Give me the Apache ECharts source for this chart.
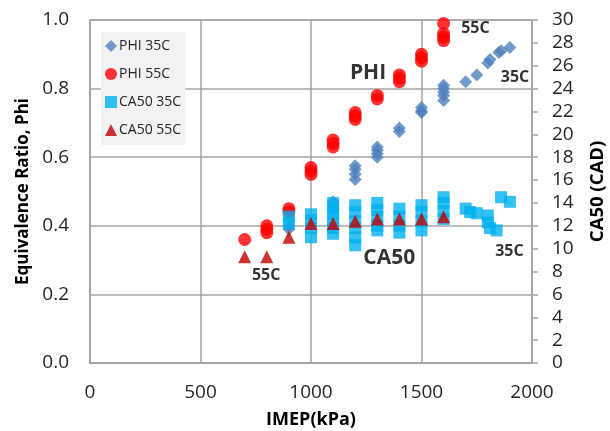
<!DOCTYPE html>
<html>
<head>
<meta charset="utf-8">
<script src="https://cdn.jsdelivr.net/npm/echarts@6/dist/echarts.min.js"></script>
<style>
  html, body { margin: 0; padding: 0; background: #fff; }
  #chart { width: 610px; height: 431px; }
</style>
</head>
<body>
<div id="chart"></div>
<script>
// IMEP (kPa) and equivalence ratio, intake at 35C
const phi35Imep = [900, 900, 1100, 1100, 1200, 1200, 1200, 1200, 1300, 1300, 1300, 1300,
  1400, 1400, 1500, 1500, 1500, 1600, 1600, 1600, 1600, 1600, 1700, 1750, 1800, 1810, 1850, 1860, 1900];
const phi35Val = [0.39, 0.40, 0.47, 0.45, 0.575, 0.565, 0.55, 0.535, 0.63, 0.62, 0.61, 0.60,
  0.685, 0.675, 0.745, 0.735, 0.73, 0.81, 0.80, 0.79, 0.78, 0.765, 0.82, 0.84, 0.875, 0.885, 0.905, 0.91, 0.92];

// IMEP (kPa) and equivalence ratio, intake at 55C
const phi55Imep = [700, 800, 800, 800, 900, 900, 1000, 1000, 1000, 1100, 1100, 1100,
  1200, 1200, 1200, 1300, 1300, 1400, 1400, 1400, 1500, 1500, 1500, 1600, 1600, 1600, 1600];
const phi55Val = [0.36, 0.38, 0.39, 0.40, 0.44, 0.45, 0.55, 0.56, 0.57, 0.63, 0.64, 0.65,
  0.71, 0.72, 0.73, 0.77, 0.78, 0.82, 0.83, 0.84, 0.88, 0.89, 0.90, 0.94, 0.95, 0.96, 0.99];

// IMEP (kPa) and CA50 (CAD), intake at 35C
const ca35Imep = [900, 900, 1000, 1000, 1000, 1000, 1100, 1100, 1100, 1100, 1100, 1100,
  1200, 1200, 1200, 1200, 1200, 1200, 1300, 1300, 1300, 1300, 1300, 1400, 1400, 1400, 1400,
  1500, 1500, 1500, 1500, 1600, 1600, 1600, 1600, 1700, 1720, 1750, 1800, 1800, 1810, 1840, 1860, 1900];
const ca35Val = [12.8, 12.2, 13.0, 12.5, 11.8, 11.0, 14.0, 13.5, 13.0, 12.4, 11.8, 11.3,
  13.8, 13.2, 12.4, 11.8, 11.0, 10.3, 14.0, 13.4, 12.8, 12.0, 11.6, 13.5, 12.8, 12.0, 11.4,
  13.8, 13.2, 12.4, 11.6, 14.5, 14.0, 13.3, 12.6, 13.5, 13.2, 13.1, 12.9, 12.3, 11.8, 11.6, 14.5, 14.1];

// IMEP (kPa) and CA50 (CAD), intake at 55C
const ca55Imep = [700, 800, 900, 1000, 1100, 1200, 1300, 1400, 1500, 1600];
const ca55Val = [9.3, 9.3, 11.0, 12.2, 12.2, 12.4, 12.6, 12.6, 12.6, 12.8];

// In-plot annotations: text, IMEP, Phi, font size
const noteText = ['PHI', '55C', '35C', 'CA50', '55C', '35C'];
const noteImep = [1258, 1744, 1923, 1354, 797, 1898];
const notePhi = [0.845, 0.974, 0.832, 0.305, 0.254, 0.3265];
const noteSize = [21, 16, 16, 21, 16, 16];

const pairs = (xs, ys) => xs.map((x, i) => [x, ys[i]]);

const FONT = 'Open Sans';
const GRID = '#a6a6a6';
const LABEL = '#262626';

const chart = echarts.init(document.getElementById('chart'), null, { renderer: 'canvas' });

chart.setOption({
  animation: false,
  backgroundColor: '#ffffff',
  textStyle: { fontFamily: FONT },
  grid: {
    left: 90, right: 78, top: 20, bottom: 68,
    outerBoundsMode: 'none', containLabel: false,
    show: true, borderColor: GRID, borderWidth: 1.5, backgroundColor: 'transparent'
  },
  legend: {
    orient: 'vertical',
    left: 101, top: 32,
    backgroundColor: '#f2f2f2',
    padding: [7, 4, 8, 4],
    itemGap: 14,
    itemWidth: 12, itemHeight: 12,
    textStyle: { fontFamily: FONT, fontSize: 14, color: LABEL, padding: [0, 0, 0, -3] },
    data: ['PHI 35C', 'PHI 55C', 'CA50 35C', 'CA50 55C']
  },
  xAxis: {
    type: 'value', min: 0, max: 2000, interval: 500,
    name: 'IMEP(kPa)', nameLocation: 'middle', nameGap: 48,
    nameTextStyle: { fontFamily: FONT, fontSize: 18, fontWeight: 'bold', color: '#000' },
    axisLine: { show: true, lineStyle: { color: GRID, width: 1.5 } },
    axisTick: { show: false },
    axisLabel: { fontFamily: FONT, fontSize: 19, color: LABEL, margin: 20,
      formatter: v => String(v) },
    splitLine: { show: true, lineStyle: { color: GRID, width: 1.5 } }
  },
  yAxis: [
    {
      type: 'value', min: 0, max: 1, interval: 0.2, position: 'left',
      name: 'Equivalence Ratio, Phi', nameLocation: 'middle', nameGap: 56, nameRotate: 90,
      nameTextStyle: { fontFamily: FONT, fontSize: 17, fontWeight: 'bold', color: '#000' },
      axisLine: { show: true, lineStyle: { color: GRID, width: 1.5 } },
      axisTick: { show: false },
      axisLabel: { fontFamily: FONT, fontSize: 19, color: LABEL, margin: 21,
        formatter: v => v.toFixed(1) },
      splitLine: { show: true, lineStyle: { color: GRID, width: 1.5 } }
    },
    {
      type: 'value', min: 0, max: 30, interval: 2, position: 'right',
      name: 'CA50 (CAD)', nameLocation: 'middle', nameGap: 56, nameRotate: 90,
      nameTextStyle: { fontFamily: FONT, fontSize: 18.5, fontWeight: 'bold', color: '#000' },
      axisLine: { show: true, lineStyle: { color: GRID, width: 1.5 } },
      axisTick: { show: true, inside: false, length: 6, lineStyle: { color: GRID, width: 1.5 } },
      axisLabel: { fontFamily: FONT, fontSize: 19, color: LABEL, margin: 20 },
      splitLine: { show: false }
    }
  ],
  series: [
    {
      name: 'PHI 35C', type: 'scatter', yAxisIndex: 0,
      symbol: 'diamond', symbolSize: 13,
      itemStyle: { color: '#4f81bd' },
      data: pairs(phi35Imep, phi35Val)
    },
    {
      name: 'PHI 55C', type: 'scatter', yAxisIndex: 0,
      symbol: 'circle', symbolSize: 13,
      itemStyle: { color: '#ff0000' },
      data: pairs(phi55Imep, phi55Val)
    },
    {
      name: 'CA50 35C', type: 'scatter', yAxisIndex: 1,
      symbol: 'rect', symbolSize: 12,
      itemStyle: { color: '#00b0f0' },
      data: pairs(ca35Imep, ca35Val)
    },
    {
      name: 'CA50 55C', type: 'scatter', yAxisIndex: 1,
      symbol: 'triangle', symbolSize: 13,
      itemStyle: { color: '#c00000' },
      data: pairs(ca55Imep, ca55Val)
    },
    {
      name: 'notes', type: 'scatter', yAxisIndex: 0,
      symbolSize: 0, silent: true, z: 5,
      data: noteText.map((t, i) => ({
        value: [noteImep[i], notePhi[i]],
        label: {
          show: true, position: 'inside', formatter: t,
          fontFamily: FONT, fontWeight: 'bold', fontSize: noteSize[i], color: '#000'
        }
      }))
    }
  ]
});
</script>
</body>
</html>
